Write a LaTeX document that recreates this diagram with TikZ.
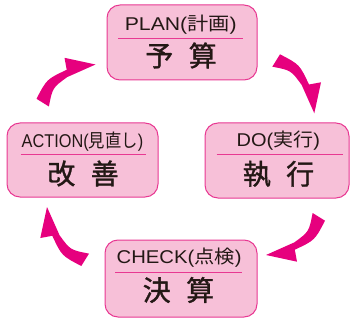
\documentclass[tikz,border=0pt]{standalone}
\usepackage{fontspec}
\usepackage{graphicx}
\setmainfont{Liberation Sans}
\newfontfamily\jp{Noto Sans CJK JP}
\newfontfamily\jpbold{Noto Sans CJK JP}[FakeBold=1.2]
\definecolor{mag}{RGB}{230,0,126}
\definecolor{boxfill}{RGB}{247,192,216}
\definecolor{boxline}{RGB}{232,56,146}
\definecolor{ink}{RGB}{35,24,21}
\tikzset{
  stagebox/.style={draw=boxline, line width=1pt, fill=boxfill, rounded corners=13pt, inner sep=0pt},
  toplbl/.style={text=ink, font=\fontsize{18.5}{18.5}\selectfont, inner sep=0pt},
  biglbl/.style={text=ink, font=\jpbold\fontsize{28}{28}\selectfont, inner sep=0pt},
  divider/.style={draw=boxline, line width=1pt},
  cyclearrow/.style={fill=mag, draw=none}
}
\newcommand\fitw[2]{\resizebox{#1}{\height}{#2}}
\newcommand\cyclearrowpath{(0,0) -- (6.7,-31) -- (-5.3,-28.8) .. controls (-14.7,-48.8) .. (-34.3,-59) -- (-42,-46.6) .. controls (-23.3,-43) .. (-12.6,-28.3) -- cycle}
\begin{document}
\begin{tikzpicture}[x=1pt,y=-1pt]
\useasboundingbox (0,0) rectangle (350,323);
% boxes
\node[stagebox, minimum width=150pt, minimum height=75pt] (plan) at (182,42.5) {};
\node[stagebox, minimum width=151pt, minimum height=74pt] (action) at (82.5,160) {};
\node[stagebox, minimum width=144pt, minimum height=75pt] (do) at (277,160.5) {};
\node[stagebox, minimum width=152pt, minimum height=77pt] (check) at (181,278.5) {};
% PLAN
\node[toplbl] (plant) at (180.8,25) {\fitw{112pt}{PLAN({\jp 計画})}};
\coordinate (planl) at (118,38.3); \coordinate (planr) at (243,38.3);
\draw[divider] (planl) -- (planr);
\node[biglbl] (planb) at (181,55.5) {予\hspace{0.55em}算};
% ACTION
\node[toplbl] (actiont) at (82.5,141.5) {\fitw{121.6pt}{ACTION({\jp 見直し})}};
\coordinate (actionl) at (20.7,154.3); \coordinate (actionr) at (145.7,154.3);
\draw[divider] (actionl) -- (actionr);
\node[biglbl] (actionb) at (83,173.5) {改\hspace{0.55em}善};
% DO
\node[toplbl] (dot) at (278.3,140.5) {\fitw{83.3pt}{DO({\jp 実行})}};
\coordinate (dol) at (216.7,154.3); \coordinate (dor) at (342.7,154.3);
\draw[divider] (dol) -- (dor);
\node[biglbl] (dob) at (278.5,174) {執\hspace{0.55em}行};
% CHECK
\node[toplbl] (checkt) at (179.2,257.5) {\fitw{125pt}{CHECK({\jp 点検})}};
\coordinate (checkl) at (115,272.3); \coordinate (checkr) at (241.7,272.3);
\draw[divider] (checkl) -- (checkr);
\node[biglbl] (checkb) at (178.5,290) {決\hspace{0.55em}算};
% arrows
\coordinate (tipdo) at (314.3,113.3);
\coordinate (tipcheck) at (266,255);
\coordinate (tipaction) at (47,207);
\coordinate (tipplan) at (95.5,64.5);
\fill[cyclearrow, shift={(tipdo)}] \cyclearrowpath;
\fill[cyclearrow, shift={(tipcheck)}, rotate=-90] \cyclearrowpath;
\fill[cyclearrow, shift={(tipaction)}, rotate=180] \cyclearrowpath;
\fill[cyclearrow, shift={(tipplan)}, rotate=90] \cyclearrowpath;
\end{tikzpicture}
\end{document}
